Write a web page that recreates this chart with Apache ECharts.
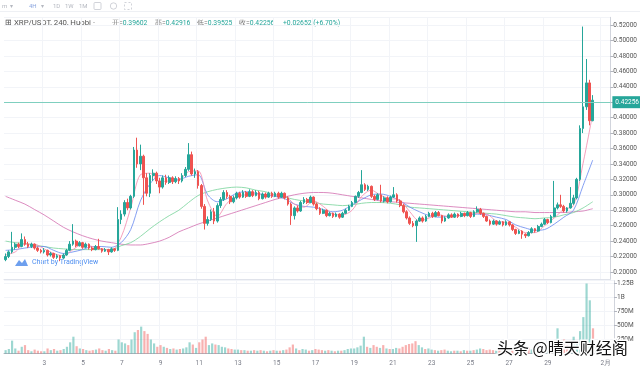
<!DOCTYPE html>
<html><head><meta charset="utf-8">
<script src="https://cdn.jsdelivr.net/npm/echarts@6/dist/echarts.min.js"></script>
<style>html,body{margin:0;padding:0;background:#fff}#c{width:640px;height:372px}</style>
</head><body><div id="c"></div>
<script>
// ---- data (XRP/USDT 4H, Huobi, Jan 2021) ----
const openP = [
.216,.220,.226,.232,.236,.233, .242,.236,.233,.236,.231,.228, .226,.228,.222,.224,.219,.221,
.218,.222,.228,.236,.240,.234, .238,.232,.236,.231,.229,.233, .230,.227,.229,.226,.230,.228,
.268,.275,.290,.283,.298,.358, .340,.350,.322,.302,.325,.328, .318,.310,.322,.316,.322,.317,
.321,.318,.325,.333,.352,.327, .330,.312,.285,.263,.268,.278, .266,.286,.294,.303,.298,.291,
.296,.302,.297,.303,.298,.304, .299,.303,.295,.301,.297,.302, .298,.302,.297,.302,.296,.288,
.273,.283,.279,.290,.294,.290, .297,.288,.282,.276,.280,.273, .276,.272,.275,.271,.276,.280,
.285,.290,.298,.303,.313,.307, .311,.298,.294,.300,.292,.296, .291,.297,.300,.292,.286,.278,
.270,.263,.260,.266,.270,.266, .272,.276,.272,.277,.273,.266, .270,.274,.271,.275,.272,.276,
.273,.277,.272,.278,.281,.276, .272,.266,.262,.266,.262,.265, .261,.265,.261,.255,.250,.253,
.249,.247,.251,.256,.253,.259, .262,.268,.264,.272,.283,.287, .285,.279,.283,.289,.296,.320,
.386,.414,.445,.39602];
const closeP = [
.220,.226,.232,.236,.233,.242, .236,.233,.236,.231,.228,.226, .228,.222,.224,.219,.221,.218,
.222,.228,.236,.240,.234,.238, .232,.236,.231,.229,.233,.230, .227,.229,.226,.230,.228,.268,
.275,.290,.283,.298,.358,.340, .350,.322,.302,.325,.328,.318, .310,.322,.316,.322,.317,.321,
.318,.325,.333,.352,.327,.330, .312,.285,.263,.268,.278,.266, .286,.294,.303,.298,.291,.296,
.302,.297,.303,.298,.304,.299, .303,.295,.301,.297,.302,.298, .302,.297,.302,.296,.288,.273,
.283,.279,.290,.294,.290,.297, .288,.282,.276,.280,.273,.276, .272,.275,.271,.276,.280,.285,
.290,.298,.303,.313,.307,.311, .298,.294,.300,.292,.296,.291, .297,.300,.292,.286,.278,.270,
.263,.260,.266,.270,.266,.272, .276,.272,.277,.273,.266,.270, .274,.271,.275,.272,.276,.273,
.277,.272,.278,.281,.276,.272, .266,.262,.266,.262,.265,.261, .265,.261,.255,.250,.253,.249,
.247,.251,.256,.253,.259,.262, .268,.264,.272,.283,.287,.285, .279,.283,.289,.296,.320,.386,
.414,.445,.396,.42256];
const highP = [
.224,.228,.252,.238,.238,.250, .246,.239,.238,.237,.233,.230, .231,.229,.226,.225,.223,.222,
.224,.230,.240,.262,.242,.240, .239,.238,.237,.233,.235,.243, .231,.231,.230,.232,.231,.284,
.280,.293,.295,.300,.362,.374, .365,.352,.328,.328,.333,.330, .322,.325,.326,.325,.324,.324,
.323,.328,.336,.367,.356,.334, .332,.314,.288,.272,.281,.283, .289,.297,.306,.306,.300,.299,
.304,.304,.306,.305,.307,.306, .306,.305,.303,.303,.304,.304, .304,.304,.304,.303,.298,.290,
.285,.286,.292,.297,.296,.299, .298,.290,.284,.282,.281,.278, .277,.277,.276,.278,.282,.287,
.292,.299,.305,.332,.315,.313, .312,.300,.302,.313,.298,.298, .299,.310,.302,.294,.288,.280,
.272,.266,.268,.272,.272,.274, .278,.278,.279,.279,.274,.272, .276,.276,.277,.276,.278,.277,
.279,.278,.280,.285,.283,.277, .273,.268,.268,.267,.267,.266, .267,.266,.262,.256,.255,.254,
.250,.253,.258,.257,.261,.264, .270,.269,.274,.318,.290,.300, .287,.284,.310,.300,.322,.390,
.518,.476,.449,.42916];
const lowP = [
.214,.218,.224,.229,.231,.232, .234,.231,.231,.229,.226,.224, .224,.220,.220,.217,.217,.214,
.217,.221,.227,.234,.232,.233, .230,.231,.229,.227,.228,.229, .225,.226,.222,.225,.226,.227,
.262,.272,.280,.281,.296,.335, .332,.287,.298,.297,.318,.314, .302,.308,.313,.314,.314,.315,
.314,.316,.323,.331,.325,.322, .308,.282,.255,.260,.266,.262, .264,.283,.292,.295,.288,.289,
.294,.295,.296,.296,.297,.297, .298,.293,.294,.295,.296,.296, .297,.295,.296,.294,.286,.261,
.268,.277,.278,.288,.288,.289, .286,.280,.274,.275,.271,.272, .270,.271,.269,.270,.275,.279,
.284,.289,.296,.302,.305,.305, .296,.292,.293,.290,.290,.289, .290,.296,.290,.284,.276,.268,
.261,.258,.239,.265,.264,.265, .271,.270,.271,.272,.263,.265, .269,.270,.270,.270,.271,.271,
.272,.270,.271,.277,.274,.270, .265,.260,.261,.260,.261,.259, .260,.259,.253,.248,.249,.243,
.244,.246,.250,.251,.252,.258, .261,.262,.263,.271,.281,.283, .277,.277,.282,.287,.294,.318,
.380,.410,.390,.39525];
// volume in millions
const volumeM = [
60,80,230,90,50,120, 150,60,40,70,50,40, 40,90,60,80,50,60,
80,120,200,300,130,90, 80,60,50,60,70,90, 60,50,80,60,50,250,
200,180,150,250,380,420, 480,400,350,250,180,120, 150,120,100,80,90,70,
80,90,110,200,160,100, 200,250,300,150,180,160, 150,120,110,90,80,70,
70,60,60,50,50,60, 50,60,50,40,50,60, 50,50,60,70,110,160,
90,60,80,70,50,60, 80,70,60,50,60,50, 40,50,50,60,80,90,
90,110,140,300,120,100, 150,120,100,150,90,80, 80,100,90,120,150,170,
180,220,150,110,80,90, 70,60,50,60,70,50, 40,50,50,40,60,50,
50,60,70,90,80,60, 70,60,50,60,50,60, 50,60,80,100,70,90,
100,70,80,60,90,80, 90,80,120,450,200,250, 150,130,300,200,400,650,
1250,950,450,150];
// moving averages read every 3 candles (index 0,3,...,183)
const maStep = 3;
const ma5 = [.222,.226,.236,.236,.230,.224,.221,.229,.236,.233,.230,.228,.245,.283,.326,.328,.317,.318,.319,.330,.331,.292,.272,.289,.298,.300,.301,.300,.300,.299,.288,.284,.292,.285,.275,.274,.280,.298,.306,.299,.295,.293,.278,.266,.270,.274,.272,.273,.275,.276,.275,.266,.264,.258,.251,.251,.260,.270,.281,.286,.341,.405];
const ma10 = [.228,.229,.231,.2325,.233,.228,.224,.226,.229,.233,.233,.232,.238,.255,.292,.314,.325,.322,.320,.324,.326,.300,.291,.295,.302,.304,.302,.300,.298,.295,.288,.285,.284,.281,.278,.280,.287,.294,.300,.301,.298,.292,.284,.278,.273,.271,.272,.273,.274,.275,.274,.271,.268,.261,.257,.254,.255,.262,.271,.280,.312,.345];
const ma30 = [.240,.238,.237,.235,.233,.231,.230,.229,.229,.229,.229,.229,.234,.238,.246,.256,.265,.273,.280,.290,.299,.304,.307,.309,.310,.309,.306,.304,.300,.297,.294,.292,.290,.288,.287,.286,.287,.289,.290,.290,.289,.287,.284,.283,.282,.281,.280,.279,.278,.277,.276,.275,.273,.271,.270,.269,.270,.271,.274,.277,.283,.291];
const ma60 = [.298,.293,.288,.281,.274,.266,.258,.252,.247,.243,.240,.238,.236,.235,.235,.237,.240,.245,.252,.257,.262,.266,.270,.274,.278,.282,.286,.290,.294,.297,.300,.302,.303,.303,.302,.300,.298,.296,.294,.292,.291,.290,.289,.288,.287,.286,.285,.284,.283,.282,.281,.280,.279,.278,.278,.277,.277,.277,.277,.278,.279,.282];
// time categories: 4h candles from 2021-01-01 00:00, plus empty slots to the right
const futureSlots = 5;
const categories = [];
for (let i = 0; i < openP.length + futureSlots; i++) {
  const h = i * 4, d = Math.floor(h / 24) + 1, hh = h % 24;
  categories.push(d <= 31 ? '1/' + d + ' ' + hh + ':00' : '2/' + (d - 31) + ' ' + hh + ':00');
}
const tickCats = ['1/3 0:00','1/5 0:00','1/7 0:00','1/9 0:00','1/11 0:00','1/13 0:00','1/15 0:00','1/17 0:00','1/19 0:00','1/21 0:00','1/23 0:00','1/25 0:00','1/27 0:00','1/29 0:00','2/1 0:00'];
const tickLabels = ['3','5','7','9','11','13','15','17','19','21','23','25','27','29','2月'];
const priceTicks = {min: 0.19, max: 0.53};
const volTicks = {max: 1300, interval: 250};
const header = {sym: '⊞ XRP/USDT, 240, Huobi', o: '0.39602', h: '0.42916', l: '0.39525', c: '0.42256', chg: '+0.02652 (+6.70%)'};

// ---- chart ----
const UP = '#26a69a', DOWN = '#ef5350';
const FONT = 'Roboto, "Noto Sans", sans-serif';
const HF = '7.8px ' + FONT;
const VF = '6.8px ' + FONT;
const candleData = openP.map((o, i) => [o, closeP[i], lowP[i], highP[i]]);
const volData = volumeM.map((v, i) => ({value: v, itemStyle: {color: closeP[i] >= openP[i] ? 'rgba(38,166,154,0.45)' : 'rgba(239,83,80,0.45)'}}));
const maLine = (arr) => arr.map((v, k) => [Math.min(k * maStep, openP.length - 1), v]);
const isTick = (idx, val) => tickCats.indexOf(val) >= 0;
const last = closeP[closeP.length - 1];
const ohlcText = (k, v) => '{k|' + k + '}{v|' + v + '}';
const ohlcRich = {k: {fill: '#777', font: VF}, v: {fill: UP, font: VF}};

const chart = echarts.init(document.getElementById('c'), null, {renderer: 'canvas'});
chart.setOption({
  animation: false,
  backgroundColor: '#fff',
  grid: [
    {left: 4, right: 26, top: 17.3, bottom: 92.3},
    {left: 4, right: 26, top: 280.7, bottom: 18.5}
  ],
  xAxis: [
    {type: 'category', gridIndex: 0, data: categories, boundaryGap: true,
     axisLine: {show: true, lineStyle: {color: '#e0e3eb'}}, axisTick: {show: false}, axisLabel: {show: false},
     splitLine: {show: true, interval: isTick, lineStyle: {color: '#f2f4f8'}}},
    {type: 'category', gridIndex: 1, data: categories, boundaryGap: true,
     axisLine: {show: true, lineStyle: {color: '#b2b5be'}}, axisTick: {show: false},
     axisLabel: {show: true, interval: isTick, formatter: (v) => tickLabels[tickCats.indexOf(v)], color: '#787b86', fontSize: 6.5, fontFamily: FONT, margin: 6},
     splitLine: {show: true, interval: isTick, lineStyle: {color: '#f2f4f8'}}}
  ],
  yAxis: [
    {type: 'value', gridIndex: 0, position: 'right', min: priceTicks.min, max: priceTicks.max, splitNumber: 17,
     axisLine: {show: true, lineStyle: {color: '#d1d4dc'}}, axisTick: {show: true, length: 3, lineStyle: {color: '#b2b5be'}},
     axisLabel: {color: '#555', fontSize: 6.5, fontFamily: FONT, margin: 3, showMinLabel: false, showMaxLabel: false, formatter: (v) => v.toFixed(5)},
     splitLine: {show: true, lineStyle: {color: '#f2f4f8'}}},
    {type: 'value', gridIndex: 1, position: 'right', min: 0, max: volTicks.max, interval: volTicks.interval,
     axisLine: {show: true, lineStyle: {color: '#d1d4dc'}}, axisTick: {show: true, length: 3, lineStyle: {color: '#b2b5be'}},
     axisLabel: {color: '#555', fontSize: 6.5, fontFamily: FONT, margin: 3, showMaxLabel: false,
       formatter: (v) => v === 0 ? '' : (v >= 1000 ? (v / 1000) + 'B' : v + 'M')},
     splitLine: {show: true, lineStyle: {color: '#f2f4f8'}}}
  ],
  series: [
    {type: 'line', xAxisIndex: 0, yAxisIndex: 0, data: maLine(ma60), showSymbol: false, smooth: 0.3, lineStyle: {color: '#d36fb0', width: 1, opacity: 0.8}, z: 2},
    {type: 'line', xAxisIndex: 0, yAxisIndex: 0, data: maLine(ma30), showSymbol: false, smooth: 0.3, lineStyle: {color: '#7fd6a0', width: 1, opacity: 0.85}, z: 2},
    {type: 'line', xAxisIndex: 0, yAxisIndex: 0, data: maLine(ma10), showSymbol: false, smooth: 0.3, lineStyle: {color: '#6f8ef0', width: 1, opacity: 0.85}, z: 2},
    {type: 'line', xAxisIndex: 0, yAxisIndex: 0, data: maLine(ma5), showSymbol: false, smooth: 0.3, lineStyle: {color: '#f58fb0', width: 1, opacity: 0.85}, z: 2},
    {type: 'candlestick', xAxisIndex: 0, yAxisIndex: 0, data: candleData, barWidth: 2.2, z: 3,
     itemStyle: {color: UP, color0: DOWN, borderColor: UP, borderColor0: DOWN, borderWidth: 1},
     markLine: {symbol: 'none', silent: true, animation: false,
       lineStyle: {color: '#7fcfbf', width: 1, type: 'solid'},
       label: {show: true, position: 'end', distance: 2, formatter: () => last.toFixed(5), backgroundColor: UP, color: '#fff', fontSize: 6.5, fontFamily: FONT, padding: [3, 3, 2, 3]},
       data: [{yAxis: last}]}},
    {type: 'bar', xAxisIndex: 1, yAxisIndex: 1, data: volData, barWidth: 2.2}
  ],
  graphic: [
    {type: 'line', shape: {x1: 0, y1: 11.5, x2: 640, y2: 11.5}, style: {stroke: '#eef0f4', lineWidth: 1}, silent: true},
    {type: 'text', x: 2, y: 6, style: {text: 'm  ▾', fill: '#b5b8c0', font: '6px ' + FONT, verticalAlign: 'middle'}},
    {type: 'text', x: 29, y: 6, style: {text: '4H', fill: '#8ea8e0', font: '6px ' + FONT, verticalAlign: 'middle'}},
    {type: 'text', x: 41, y: 6, style: {text: '▾', fill: '#b5b8c0', font: '6px ' + FONT, verticalAlign: 'middle'}},
    {type: 'text', x: 53, y: 6, style: {text: '1D', fill: '#b5b8c0', font: '6px ' + FONT, verticalAlign: 'middle'}},
    {type: 'text', x: 65, y: 6, style: {text: '1W', fill: '#b5b8c0', font: '6px ' + FONT, verticalAlign: 'middle'}},
    {type: 'text', x: 79, y: 6, style: {text: '1M', fill: '#b5b8c0', font: '6px ' + FONT, verticalAlign: 'middle'}},
    {type: 'rect', shape: {x: 94, y: 2.5, width: 7, height: 7, r: 1}, style: {fill: 'none', stroke: '#c5c8cf', lineWidth: 0.8}},
    {type: 'circle', shape: {cx: 113.5, cy: 6, r: 3.2}, style: {fill: 'none', stroke: '#c5c8cf', lineWidth: 0.8}},
    {type: 'rect', shape: {x: 124.5, y: 2.5, width: 7, height: 7}, style: {fill: 'none', stroke: '#c5c8cf', lineWidth: 0.8, lineDash: [2, 2]}},
    {type: 'text', x: 5, y: 23, style: {text: header.sym + ' ·', fill: '#555', font: HF, verticalAlign: 'middle'}},
    {type: 'text', x: 112, y: 23, style: {text: ohlcText('开=', header.o), rich: ohlcRich, verticalAlign: 'middle'}},
    {type: 'text', x: 155, y: 23, style: {text: ohlcText('高=', header.h), rich: ohlcRich, verticalAlign: 'middle'}},
    {type: 'text', x: 197, y: 23, style: {text: ohlcText('低=', header.l), rich: ohlcRich, verticalAlign: 'middle'}},
    {type: 'text', x: 239, y: 23, style: {text: ohlcText('收=', header.c), rich: ohlcRich, verticalAlign: 'middle'}},
    {type: 'text', x: 283, y: 23, style: {text: header.chg, fill: UP, font: VF, verticalAlign: 'middle'}},
    {type: 'polygon', shape: {points: [[15, 266], [19, 260], [22, 263], [25, 259], [28, 266]]}, style: {fill: '#5d95ec', opacity: 0.9}},
    {type: 'text', x: 32, y: 262.5, style: {text: 'Chart by TradingView', fill: '#4f8ff0', font: '7px ' + FONT, verticalAlign: 'middle'}},
    {type: 'text', x: 497, y: 348, z: 100, style: {text: '头条 @晴天财经阁', fill: '#111', stroke: '#fff', lineWidth: 3, strokeFirst: true, font: '16px "Noto Sans CJK SC"', verticalAlign: 'middle'}}
  ]
});
</script>
</body></html>
